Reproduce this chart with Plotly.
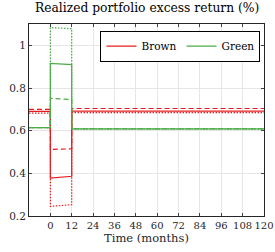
import plotly.graph_objects as go

time = [-12, 0, 0, 12, 12, 120]
brown_solid = [0.690, 0.690, 0.378, 0.386, 0.692, 0.692]
brown_dashed = [0.700, 0.700, 0.512, 0.515, 0.704, 0.704]
brown_dotted = [0.682, 0.682, 0.245, 0.253, 0.685, 0.685]
green_solid = [0.614, 0.614, 0.915, 0.910, 0.608, 0.608]
green_dashed = [0.614, 0.614, 0.752, 0.746, 0.609, 0.609]
green_dotted = [0.614, 0.614, 1.083, 1.078, 0.607, 0.607]
xticks = list(range(0, 121, 12))
yticks = [0.2, 0.4, 0.6, 0.8, 1.0]

RED = "rgb(232,28,30)"
GREEN = "rgb(77,172,72)"

fig = go.Figure()
series = [
    ("Brown", brown_solid, RED, "solid", True),
    ("Green", green_solid, GREEN, "solid", True),
    ("Brown dashed", brown_dashed, RED, "5px,3px", False),
    ("Brown dotted", brown_dotted, RED, "1.5px,1.5px", False),
    ("Green dashed", green_dashed, GREEN, "5px,3px", False),
    ("Green dotted", green_dotted, GREEN, "1.5px,1.5px", False),
]
for name, y, c, d, show in series:
    fig.add_trace(go.Scatter(x=time, y=y, mode="lines", name=name,
                             line=dict(color=c, dash=d, width=1.2),
                             showlegend=show))

font = "DejaVu Serif"
fig.update_layout(
    width=275, height=252,
    margin=dict(l=29, r=11, t=24, b=36),
    paper_bgcolor="white", plot_bgcolor="white",
    font=dict(family=font, size=10, color="#262626"),
    title=dict(text="Realized portfolio excess return (%)", x=0.535, xanchor="center",
               y=0.985, yanchor="top", font=dict(family=font, size=12.3, color="black")),
    legend=dict(x=0.985, y=0.965, xanchor="right", yanchor="top", orientation="h",
                bordercolor="black", borderwidth=1, bgcolor="white",
                font=dict(family=font, size=10.5, color="black"),
                tracegroupgap=0, itemwidth=30),
    xaxis=dict(range=[-12, 120], tickvals=xticks, ticks="inside", ticklen=3,
               showline=True, linecolor="#262626", linewidth=1, mirror="ticks",
               showgrid=True, gridcolor="#e6e6e6", zeroline=False, automargin=False,
               tickangle=0, tickfont=dict(family=font, size=10),
               title=dict(text="Time (months)", standoff=3, font=dict(family=font, size=11.5))),
    yaxis=dict(range=[0.2, 1.1], tickvals=yticks, ticktext=["0.2", "0.4", "0.6", "0.8", "1"],
               ticks="inside", ticklen=3, automargin=False,
               showline=True, linecolor="#262626", linewidth=1, mirror="ticks",
               showgrid=True, gridcolor="#e6e6e6", zeroline=False,
               tickfont=dict(family=font, size=10.5)),
)
fig.write_html("out.html", config={"displayModeBar": False},
               post_script="document.body.style.margin='0';document.body.style.padding='0';")
